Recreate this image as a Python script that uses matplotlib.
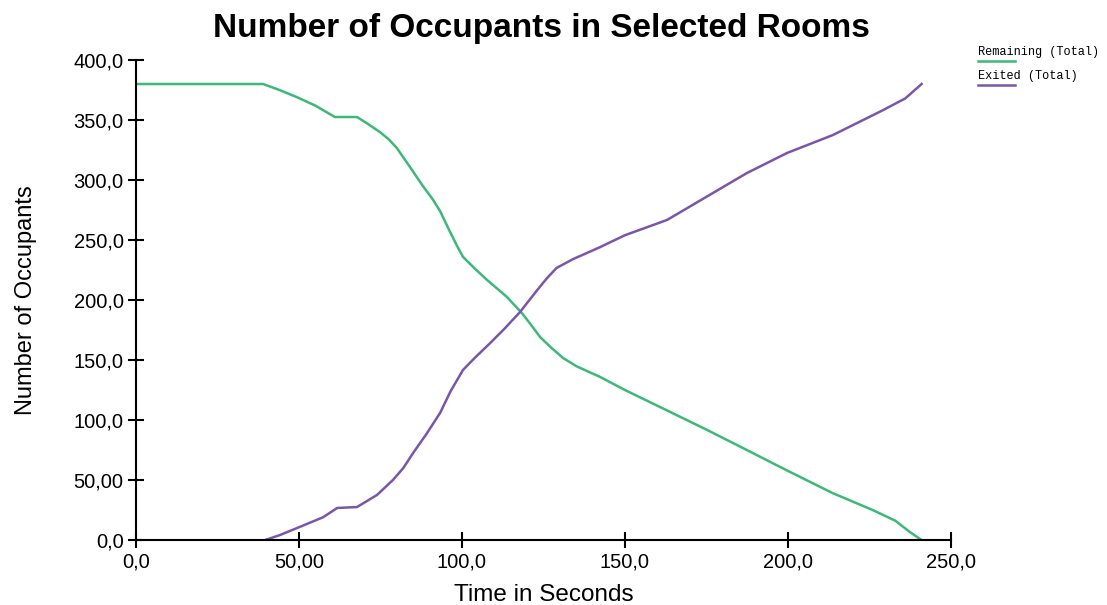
import matplotlib
matplotlib.use("Agg")
import matplotlib.pyplot as plt

# ---- data ----
rem_t = [0, 39, 44, 49.4, 55, 61, 67.8, 71, 74.8, 77.5, 80, 84, 88, 91, 93.3, 96.3, 98.5,
         100.3, 104, 107.7, 113.8, 118.4, 121, 124, 127.5, 131, 135, 139, 142.3, 150,
         162.9, 175, 187.4, 199.7, 213.8, 226, 233, 237.4, 241]
rem_y = [380, 380, 375, 369, 362, 352.5, 352.5, 347, 340, 334, 326.7, 311, 295, 284, 274,
         257, 245, 236, 226, 216.7, 202.5, 189, 180, 169, 160, 151.7, 145, 140, 136, 125,
         108, 92, 75, 58, 39, 25, 16, 6.7, 0]

exit_t = [39.6, 44, 50.3, 57.4, 61.7, 67.8, 73.9, 78.8, 82, 85, 89, 93.3, 96.5, 100.3,
          104, 108.6, 113, 117.8, 123, 126, 129, 134, 142.3, 150, 162.9, 175, 187.4,
          199.7, 213.8, 229, 236, 241]
exit_y = [0, 4, 11, 19, 26.7, 27.5, 37.5, 50, 60, 72.5, 88, 106, 124, 141.7,
          152, 164, 176, 190, 208, 218, 226.7, 234, 244, 254, 266.7, 286, 305.8,
          322.5, 337.5, 358, 368, 380]

x_ticks = [0, 50, 100, 150, 200, 250]
x_tick_labels = ["0,0", "50,00", "100,0", "150,0", "200,0", "250,0"]
y_ticks = [0, 50, 100, 150, 200, 250, 300, 350, 400]
y_tick_labels = ["0,0", "50,00", "100,0", "150,0", "200,0", "250,0", "300,0", "350,0", "400,0"]

series_names = ["Remaining (Total)", "Exited (Total)"]
GREEN = "#3cb878"
PURPLE = "#7a56aa"

plt.rcParams['font.family'] = ['Liberation Sans', 'DejaVu Sans']

fig = plt.figure(figsize=(11.07, 6.05), dpi=100)
ax = fig.add_axes([0.1229, 0.1074, 0.859 - 0.1229, 0.9008 - 0.1074])

ax.plot(rem_t, rem_y, color=GREEN, lw=1.8, solid_joinstyle='round')
ax.plot(exit_t, exit_y, color=PURPLE, lw=1.8, solid_joinstyle='round')

ax.set_xlim(0, 250)
ax.set_ylim(0, 400)
ax.set_xticks(x_ticks)
ax.set_xticklabels(x_tick_labels)
ax.set_yticks(y_ticks)
ax.set_yticklabels(y_tick_labels)
ax.tick_params(direction='inout', length=12, width=1.5, labelsize=14.5, pad=3)
for s in ['top', 'right']:
    ax.spines[s].set_visible(False)
for s in ['left', 'bottom']:
    ax.spines[s].set_linewidth(1.5)

ax.set_xlabel("Time in Seconds", fontsize=17.5, labelpad=9)
ax.set_ylabel("Number of Occupants", fontsize=17, labelpad=26)
fig.text(0.489, 0.953, "Number of Occupants in Selected Rooms", ha='center', va='center',
         fontsize=24, fontweight='bold')

# legend (manual, monospaced, top right)
lx0, lx1 = 978 / 1107, 1015 / 1107
for i, (name, col) in enumerate(zip(series_names, [GREEN, PURPLE])):
    ty = 1 - (52 + 24 * i) / 605
    ly = 1 - (61 + 24 * i) / 605
    fig.text(lx0, ty, name, fontsize=8.6, family='Liberation Mono', va='center', ha='left')
    fig.add_artist(plt.Line2D([lx0, lx1], [ly, ly], color=col, lw=1.8,
                              transform=fig.transFigure))

fig.savefig("out.png", dpi=100)
